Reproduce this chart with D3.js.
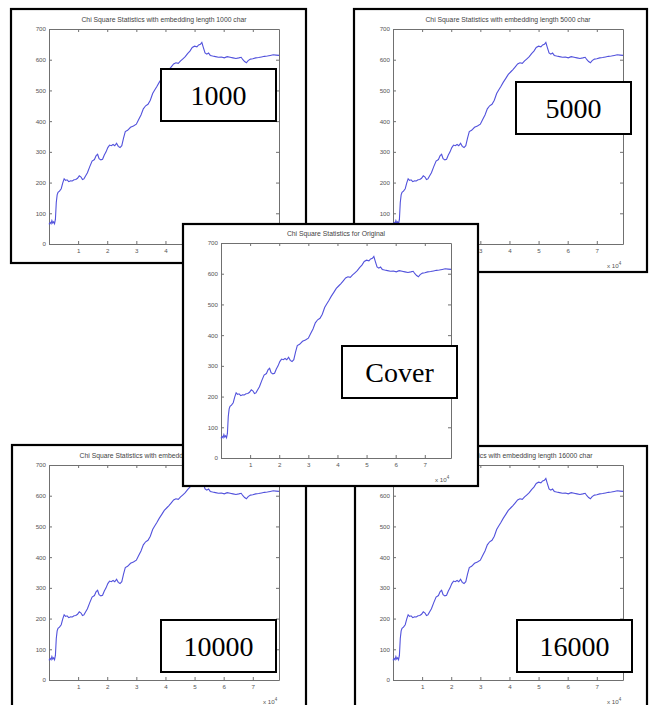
<!DOCTYPE html>
<html>
<head>
<meta charset="utf-8">
<script src="https://cdn.jsdelivr.net/npm/d3@7"></script>
<style>
  body { margin: 0; background: #fff; }
  svg { display: block; }
</style>
</head>
<body>
<svg id="chart" width="651" height="705"></svg>
<script>
// --- Chi square statistic curve (x in units of 10^4) ---
const xVals = [0.00, 0.04, 0.07, 0.10, 0.13, 0.16, 0.19, 0.22, 0.25, 0.28, 0.31, 0.36, 0.42, 0.47, 0.52, 0.57,
    0.62, 0.68, 0.74, 0.80, 0.86, 0.92, 0.98, 1.04, 1.10, 1.15, 1.20, 1.26, 1.32, 1.40, 1.48, 1.56,
    1.62, 1.67, 1.72, 1.78, 1.84, 1.90, 1.96, 2.02, 2.08, 2.14, 2.20, 2.26, 2.32, 2.38, 2.44, 2.50,
    2.56, 2.62, 2.70, 2.80, 2.90, 3.00, 3.08, 3.16, 3.24, 3.32, 3.40, 3.48, 3.56, 3.62, 3.70, 3.79,
    3.88, 3.96, 4.04, 4.12, 4.20, 4.28, 4.36, 4.44, 4.52, 4.60, 4.68, 4.76, 4.84, 4.92, 5.00, 5.08,
    5.14, 5.20, 5.25, 5.30, 5.36, 5.42, 5.48, 5.54, 5.62, 5.72, 5.82, 5.92, 6.02, 6.12, 6.22, 6.32,
    6.42, 6.52, 6.60, 6.66, 6.72, 6.78, 6.84, 6.92, 7.00, 7.10, 7.20, 7.30, 7.40, 7.50, 7.60, 7.70,
    7.80, 7.90];
const chiVals = [64, 70, 66, 76, 68, 72, 66, 80, 135, 160, 168, 172, 180, 198, 212, 207,
    209, 203, 206, 205, 209, 210, 214, 222, 218, 210, 212, 222, 232, 252, 270, 275,
    288, 292, 278, 274, 276, 290, 300, 314, 322, 320, 324, 320, 328, 318, 314, 320,
    345, 366, 370, 380, 384, 390, 405, 420, 440, 450, 455, 468, 490, 500, 512, 527,
    540, 552, 560, 568, 577, 586, 590, 588, 596, 603, 610, 620, 628, 640, 644, 642,
    648, 650, 656, 640, 622, 618, 622, 614, 612, 610, 608, 609, 606, 610, 608, 606,
    604, 606, 608, 600, 594, 590, 597, 602, 603, 606, 607, 609, 611, 612, 614, 616,
    615, 614];

const yTicks = [0, 100, 200, 300, 400, 500, 600, 700];
const xTicks = [1, 2, 3, 4, 5, 6, 7];
const xExponent = "4";

const panelTitles = [
    "Chi Square Statistics with embedding length 1000 char",
    "Chi Square Statistics with embedding length 5000 char",
    "Chi Square Statistics with embedding length 10000 char",
    "Chi Square Statistics with embedding length 16000 char",
    "Chi Square Statistics for Original"
];
const panelLabels = ["1000", "5000", "10000", "16000", "Cover"];

// layout of each pasted screenshot (drawn in this order, centre one last)
const layout = [
    { box: [11, 9, 295, 254], plot: [49, 29], tag: [161, 69] },
    { box: [354, 9, 293, 263], plot: [393, 29], tag: [516, 82] },
    { box: [12, 445, 294, 270], plot: [49, 465], tag: [161, 620] },
    { box: [355, 446, 292, 270], plot: [393, 465], tag: [517, 620] },
    { box: [183, 224, 295, 262], plot: [221, 243], tag: [342, 346] }
];

const plotW = 230, plotH = 215, tagW = 115, tagH = 52;
const data = xVals.map((x, i) => ({ x: x, y: chiVals[i] }));

const svg = d3.select("#chart");

const x = d3.scaleLinear().domain([0, 7.9]).range([0, plotW]);
const y = d3.scaleLinear().domain([0, 700]).range([plotH, 0]);

const line = d3.line()
    .x(d => x(d.x))
    .y(d => y(d.y));

function styleAxis(g) {
    g.selectAll("path, line").attr("stroke", "#707070").attr("stroke-width", 1);
    g.selectAll("text")
        .attr("fill", "#555")
        .attr("font-family", "Liberation Sans, Arial, sans-serif")
        .attr("font-size", 6.2);
}

layout.forEach((p, i) => {
    const panel = svg.append("g");

    panel.append("rect")
        .attr("x", p.box[0])
        .attr("y", p.box[1])
        .attr("width", p.box[2])
        .attr("height", p.box[3])
        .attr("fill", "#fff")
        .attr("stroke", "#000")
        .attr("stroke-width", 2.2);

    const g = panel.append("g")
        .attr("transform", `translate(${p.plot[0]},${p.plot[1]})`);

    g.append("text")
        .attr("x", plotW / 2)
        .attr("y", -7)
        .attr("text-anchor", "middle")
        .attr("fill", "#444")
        .attr("font-family", "Liberation Sans, Arial, sans-serif")
        .attr("font-size", 6.8)
        .text(panelTitles[i]);

    g.append("g")
        .call(d3.axisLeft(y).tickValues(yTicks).tickSizeInner(-3).tickSizeOuter(0).tickPadding(3))
        .call(styleAxis);

    g.append("g")
        .attr("transform", `translate(${plotW},0)`)
        .call(d3.axisRight(y).tickValues(yTicks).tickSizeInner(-3).tickSizeOuter(0).tickFormat(""))
        .call(styleAxis);

    g.append("g")
        .call(d3.axisTop(x).tickValues(xTicks).tickSizeInner(-3).tickSizeOuter(0).tickFormat(""))
        .call(styleAxis);

    g.append("g")
        .attr("transform", `translate(0,${plotH})`)
        .call(d3.axisBottom(x).tickValues(xTicks).tickSizeInner(-3).tickSizeOuter(0).tickPadding(5))
        .call(styleAxis);

    const exp = g.append("text")
        .attr("x", plotW - 16)
        .attr("y", plotH + 24)
        .attr("fill", "#555")
        .attr("font-family", "Liberation Sans, Arial, sans-serif")
        .attr("font-size", 6.2);
    exp.append("tspan").text("x 10");
    exp.append("tspan").attr("dy", -3).attr("font-size", 4.5).text(xExponent);

    g.append("path")
        .datum(data)
        .attr("fill", "none")
        .attr("stroke", "#5252dc")
        .attr("stroke-width", 1.1)
        .attr("d", line);

    panel.append("rect")
        .attr("x", p.tag[0])
        .attr("y", p.tag[1])
        .attr("width", tagW)
        .attr("height", tagH)
        .attr("fill", "#fff")
        .attr("stroke", "#000")
        .attr("stroke-width", 2);

    panel.append("text")
        .attr("x", p.tag[0] + tagW / 2)
        .attr("y", p.tag[1] + 36)
        .attr("text-anchor", "middle")
        .attr("font-family", "Liberation Serif, Times New Roman, serif")
        .attr("font-size", 28)
        .attr("fill", "#000")
        .text(panelLabels[i]);
});
</script>
</body>
</html>
